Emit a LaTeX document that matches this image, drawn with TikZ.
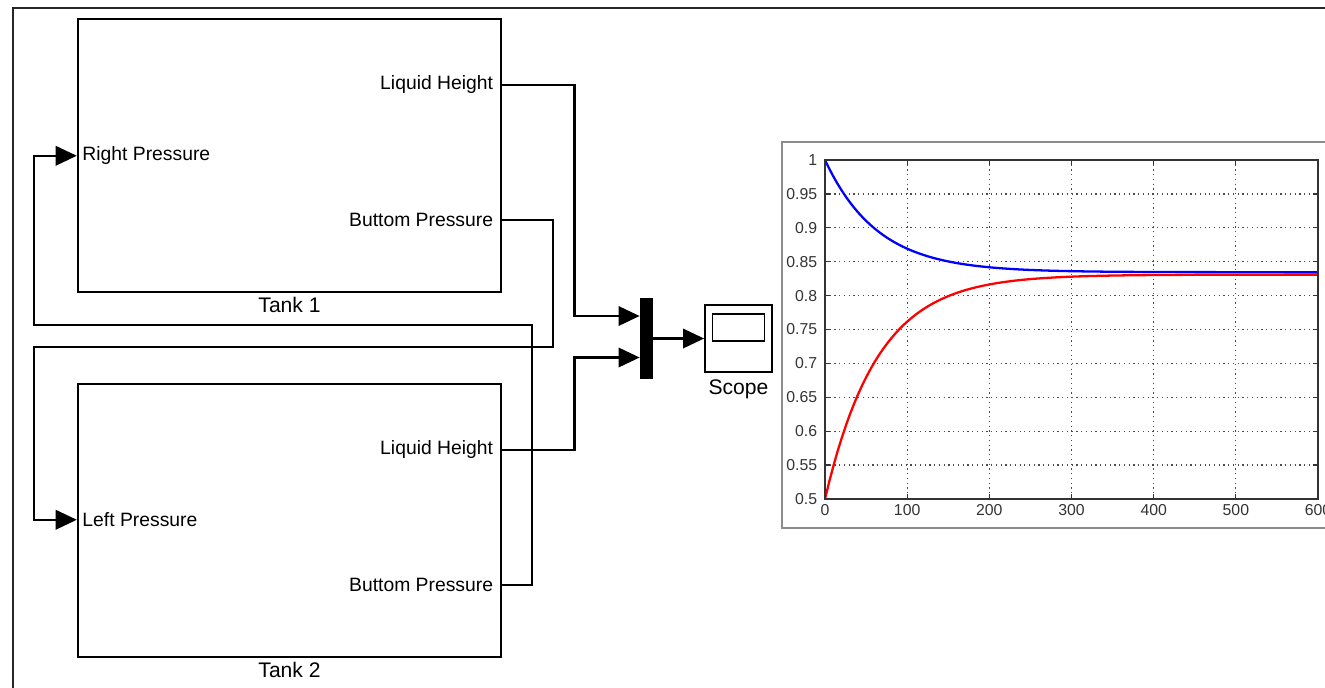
\documentclass[tikz,border=0pt]{standalone}
\usepackage{fontspec}
\setmainfont{Liberation Sans}
\usetikzlibrary{arrows.meta, calc, positioning}
\tikzset{
  block/.style={rectangle, draw=black, line width=1.4pt, minimum width=8.46cm, minimum height=5.46cm, inner sep=0pt},
  outport/.style={anchor=east, inner xsep=5pt, inner ysep=0pt, font=\fontsize{11}{13}\selectfont},
  inport/.style={anchor=west, inner xsep=3pt, inner ysep=0pt, font=\fontsize{11}{13}\selectfont},
  blocklabel/.style={font=\fontsize{12}{14}\selectfont, inner sep=2pt},
  wire/.style={line width=1.4pt},
  signal/.style={line width=1.4pt, -{Triangle[length=12pt, width=11pt]}},
  gridline/.style={black!70, line width=0.7pt, dotted},
  ticklabel/.style={font=\fontsize{9}{11}\selectfont, text=black!80, inner sep=2pt}
}

\begin{document}
\begin{tikzpicture}[x=0.02cm, y=-0.02cm]
  \useasboundingbox (0,0) rectangle (1325,687);

  % model window frame
  \draw[black!85, line width=0.9pt] (13,690) -- (13,8) -- (1330,8);

  % Tank 1
  \node[block] (tank1) at (289.5,155.5) {};
  \node[blocklabel, below=0pt of tank1] (tank1lab) {Tank 1};
  \node[outport] (t1height) at ([yshift=-1.34cm]tank1.north east) {Liquid Height};
  \node[outport] (t1press) at ([yshift=-4.04cm]tank1.north east) {Buttom Pressure};
  \node[inport] (t1right) at ([yshift=-2.76cm]tank1.north west) {Right Pressure};

  % Tank 2
  \node[block] (tank2) at (289.5,520.5) {};
  \node[blocklabel, below=0pt of tank2] (tank2lab) {Tank 2};
  \node[outport] (t2height) at ([yshift=-1.34cm]tank2.north east) {Liquid Height};
  \node[outport] (t2press) at ([yshift=-4.04cm]tank2.north east) {Buttom Pressure};
  \node[inport] (t2left) at ([yshift=-2.74cm]tank2.north west) {Left Pressure};

  % Mux and Scope
  \node[fill=black, minimum width=0.26cm, minimum height=1.62cm, inner sep=0pt] (mux) at (646.5,338.5) {};
  \coordinate (muxin1) at ([yshift=0.45cm]mux.west);
  \coordinate (muxin2) at ([yshift=-0.38cm]mux.west);
  \node[draw, line width=1pt, minimum width=1.34cm, minimum height=1.34cm, inner sep=0pt] (scope) at (738.5,338.5) {};
  \node[draw, line width=1pt, minimum width=1.04cm, minimum height=0.54cm, inner sep=0pt, anchor=north] (screen) at ([yshift=-0.18cm]scope.north) {};
  \node[blocklabel, below=2pt of scope] (scopelab) {Scope};

  % signals
  \draw[signal] (t1height.east) -| ($(muxin1)+(-65,0)$) -- (muxin1);
  \draw[signal] (t2height.east) -| ($(muxin2)+(-65,0)$) -- (muxin2);
  \draw[signal] (mux.east) -- (scope.west);
  \draw[signal] (t1press.east) -- ++(51,0) |- (34,347) |- (t2left.west);
  \draw[signal] (t2press.east) -- ++(30,0) |- (34,325) |- (t1right.west);

  % scope window
  \draw[black!45, line width=1.5pt] (1330,142) -- (782,142) -- (782,528) -- (1330,528);

  % grid
  \foreach \t in {100,200,...,500}
    \draw[gridline] ({825+0.8217*\t},160) -- ({825+0.8217*\t},499);
  \foreach \k in {1,...,9}
    \draw[gridline] (825,{499-33.9*\k}) -- (1318,{499-33.9*\k});

  % ticks and labels
  \foreach \t in {0,100,200,...,600} {
    \draw[black!80, line width=0.7pt] ({825+0.8217*\t},499) -- ++(0,-5);
    \draw[black!80, line width=0.7pt] ({825+0.8217*\t},160) -- ++(0,5);
    \node[ticklabel, anchor=north] (xlab\t) at ({825+0.8217*\t},501) {\t};
  }
  \foreach \k/\lab in {0/0.5,1/0.55,2/0.6,3/0.65,4/0.7,5/0.75,6/0.8,7/0.85,8/0.9,9/0.95,10/1} {
    \draw[black!80, line width=0.7pt] (825,{499-33.9*\k}) -- ++(5,0);
    \draw[black!80, line width=0.7pt] (1318,{499-33.9*\k}) -- ++(-5,0);
    \node[ticklabel, anchor=east] (ylab\k) at (821,{499-33.9*\k}) {\lab};
  }

  % curves
  \draw[red, line width=1.3pt] plot[domain=0:600, samples=120] ({825+0.8217*\x}, {274.6+224.4*exp(-\x/64)});
  \draw[blue, line width=1.3pt] plot[domain=0:600, samples=120] ({825+0.8217*\x}, {160+112.2*(1-exp(-\x/64))});

  % axes box
  \draw[black!80, line width=0.8pt] (825,160) rectangle (1318,499);
\end{tikzpicture}
\end{document}
